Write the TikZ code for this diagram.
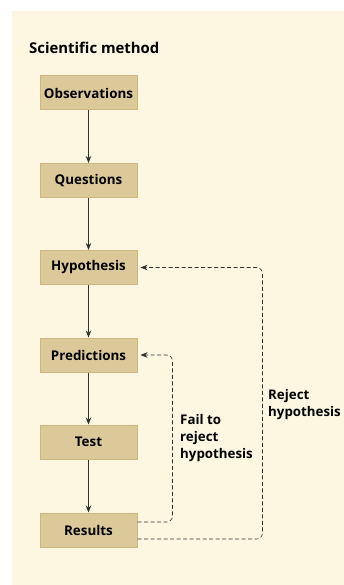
\documentclass[tikz,border=0pt]{standalone}
\usepackage{fontspec}
\setmainfont{Open Sans}
\usepackage{tikz}
\usetikzlibrary{arrows.meta,positioning,calc}
\definecolor{paper}{RGB}{253,246,225}
\definecolor{boxtan}{RGB}{220,201,154}
\definecolor{boxedge}{RGB}{205,183,127}
\definecolor{linegray}{RGB}{50,50,50}

\begin{document}
\begin{tikzpicture}[
    x=1pt, y=-1pt,
    stepbox/.style={draw=boxedge, line width=1pt, fill=boxtan, minimum width=97pt, minimum height=34pt, inner sep=0pt, font=\fontsize{13.4}{16}\selectfont\bfseries},
    note/.style={align=left, inner sep=0pt, font=\fontsize{13.3}{17}\selectfont\bfseries},
    flow/.style={-{Stealth[length=7pt,width=5.5pt]}, linegray, line width=0.8pt},
    back/.style={-{Stealth[length=7pt,width=5.5pt]}, linegray, line width=0.6pt, dashed, dash pattern=on 4pt off 2.5pt, rounded corners=6pt, shorten >=3pt}
]
\useasboundingbox (0,0) rectangle (344,585);
\fill[paper] (12,11) rectangle (344,585);

\node[anchor=west, inner sep=0pt, font=\fontsize{14.9}{18}\selectfont\bfseries] (title) at (29,48) {Scientific method};

\node[stepbox] (obs) at (88.5,93) {Observations};
\node[stepbox] (quest) at (88.5,180.5) {Questions};
\node[stepbox] (hyp) at (88.5,267.5) {Hypothesis};
\node[stepbox] (pred) at (88.5,355) {Predictions};
\node[stepbox] (test) at (88.5,442) {Test};
\node[stepbox] (res) at (88.5,530) {Results};

\draw[flow] (obs) -- (quest);
\draw[flow] (quest) -- (hyp);
\draw[flow] (hyp) -- (pred);
\draw[flow] (pred) -- (test);
\draw[flow] (test) -- (res);

% feedback loops
\draw[back] ([yshift=8pt]res.east) -- ++(35,0) |- (pred.east);
\draw[back] ([yshift=-9pt]res.east) -- ++(125,0) |- (hyp.east);

\node[note, anchor=west] (fail) at (180,438) {Fail to\\reject\\hypothesis};
\node[note, anchor=west] (reject) at (268,405) {Reject\\hypothesis};
\end{tikzpicture}
\end{document}
